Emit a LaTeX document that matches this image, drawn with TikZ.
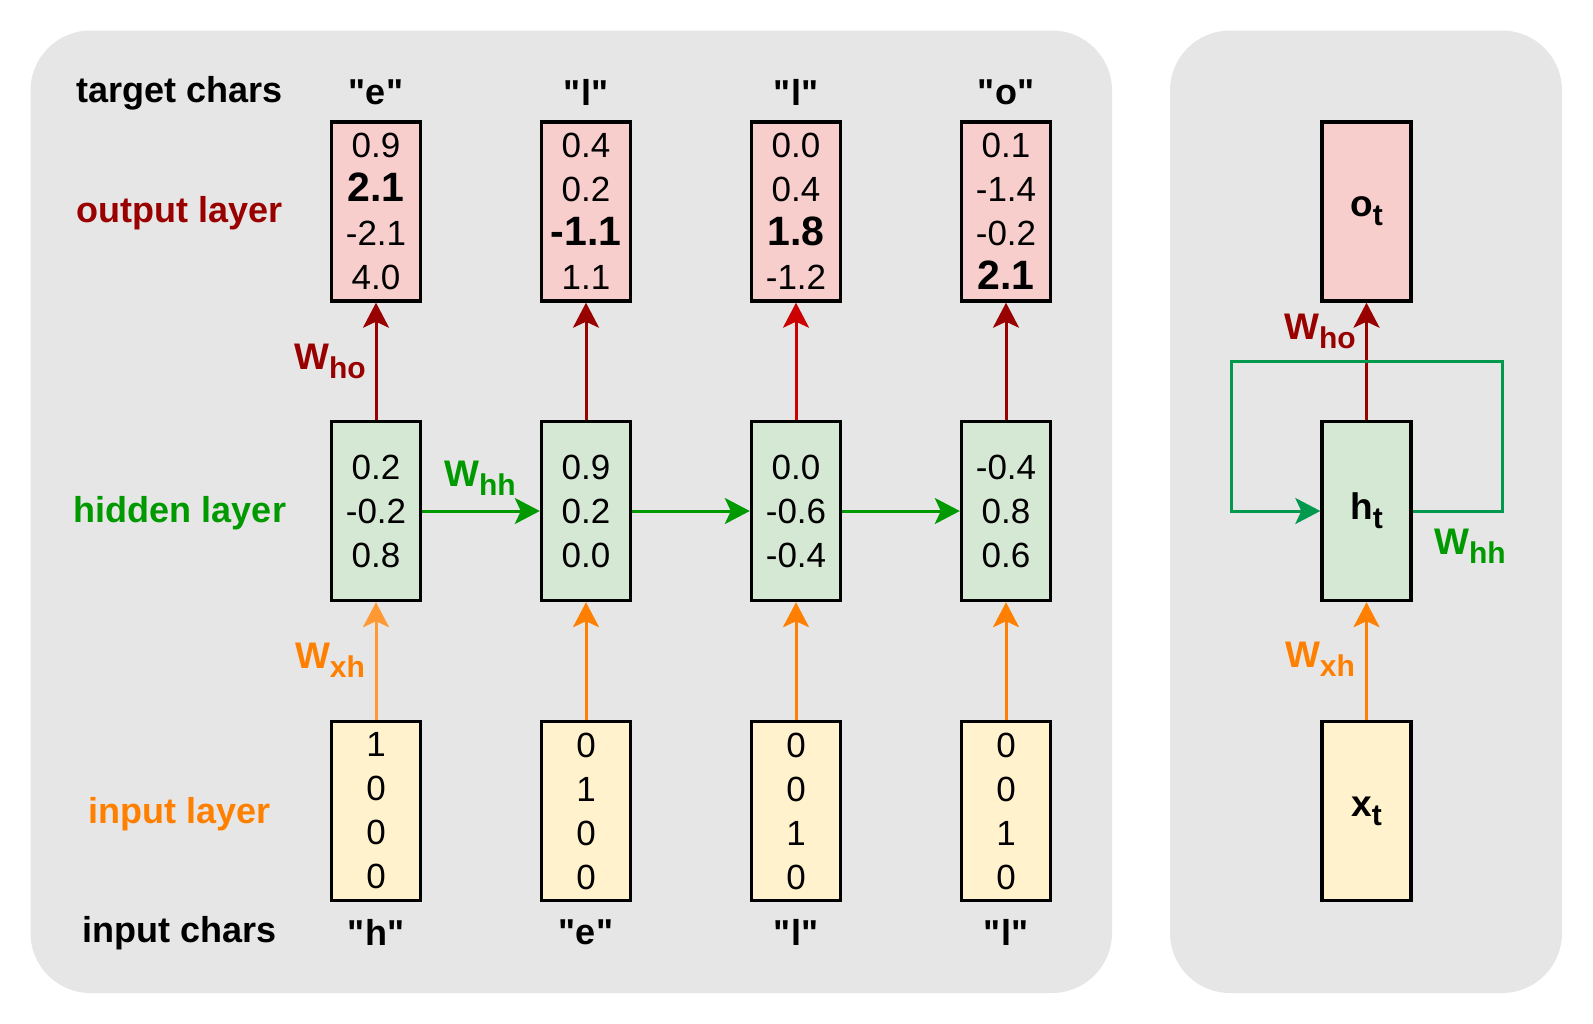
\documentclass[tikz,border=0pt]{standalone}
\usepackage{fontspec}
\setmainfont{Liberation Sans}[Ligatures=TeXOff]
\usetikzlibrary{arrows.meta}
\definecolor{panel}{HTML}{E6E6E6}
\definecolor{pinkf}{HTML}{F8CECC}
\definecolor{greenf}{HTML}{D5E8D4}
\definecolor{yellowf}{HTML}{FFF2CC}
\definecolor{dred}{HTML}{990000}
\definecolor{bred}{HTML}{CC0000}
\definecolor{dgreen}{HTML}{009900}
\definecolor{lgreen}{HTML}{00994D}
\definecolor{orng}{HTML}{FF8000}
\definecolor{lorng}{HTML}{FF9933}
\tikzset{
  vbox/.style={draw=black, line width=1.7pt, minimum width=44.5pt, minimum height=89.5pt, inner sep=0pt, align=center, font=\fontsize{17.5}{22}\selectfont},
  outbox/.style={vbox, fill=pinkf},
  hidbox/.style={vbox, fill=greenf},
  inbox/.style={vbox, fill=yellowf},
  lbl/.style={font=\fontsize{18}{20}\selectfont\bfseries},
  wlbl/.style={font=\fontsize{18.5}{20}\selectfont\bfseries, inner sep=0pt},
  conn/.style={line width=1.5pt, -{Stealth[length=12.5pt, width=13pt, inset=3pt]}},
}
\newcommand{\bignum}[1]{{\fontsize{20.5}{22}\selectfont\bfseries #1}}
\newcommand{\wsub}[2]{#1\raisebox{-4.5pt}{\fontsize{15}{15}\selectfont #2}}
\newcommand{\qq}[1]{"#1"}
\begin{document}
\begin{tikzpicture}[x=0.5pt,y=-0.5pt]
\useasboundingbox (0,0) rectangle (1593,1023);
\fill[panel, rounded corners=30pt] (30.5,30.5) rectangle (1112,993);
\fill[panel, rounded corners=30pt] (1170,30.5) rectangle (1562,993);

% row labels
\node[lbl] (lt) at (180,93) {target chars};
\node[lbl, text=dred] (lo) at (180,213) {output layer};
\node[lbl, text=dgreen] (lh) at (180,513) {hidden layer};
\node[lbl, text=orng] (li) at (180,814) {input layer};
\node[lbl] (lc) at (180,933) {input chars};

% target chars
\node[lbl] (t1) at (376,92) {\qq{e}};
\node[lbl] (t2) at (586,92) {\qq{l}};
\node[lbl] (t3) at (796,92) {\qq{l}};
\node[lbl] (t4) at (1006,92) {\qq{o}};
% input chars
\node[lbl] (c1) at (376,932) {\qq{h}};
\node[lbl] (c2) at (586,932) {\qq{e}};
\node[lbl] (c3) at (796,932) {\qq{l}};
\node[lbl] (c4) at (1006,932) {\qq{l}};

% output boxes
\node[outbox] (o1) at (376,211.5) {0.9\\\bignum{2.1}\\-2.1\\4.0};
\node[outbox] (o2) at (586,211.5) {0.4\\0.2\\\bignum{-1.1}\\1.1};
\node[outbox] (o3) at (796,211.5) {0.0\\0.4\\\bignum{1.8}\\-1.2};
\node[outbox] (o4) at (1006,211.5) {0.1\\-1.4\\-0.2\\\bignum{2.1}};
% hidden boxes
\node[hidbox] (h1) at (376,511) {0.2\\-0.2\\0.8};
\node[hidbox] (h2) at (586,511) {0.9\\0.2\\0.0};
\node[hidbox] (h3) at (796,511) {0.0\\-0.6\\-0.4};
\node[hidbox] (h4) at (1006,511) {-0.4\\0.8\\0.6};
% input boxes
\node[inbox] (i1) at (376,811) {1\\0\\0\\0};
\node[inbox] (i2) at (586,811) {0\\1\\0\\0};
\node[inbox] (i3) at (796,811) {0\\0\\1\\0};
\node[inbox] (i4) at (1006,811) {0\\0\\1\\0};

% connectors
\draw[conn, dred] (h1) -- (o1);
\draw[conn, dred] (h2) -- (o2);
\draw[conn, bred] (h3) -- (o3);
\draw[conn, dred] (h4) -- (o4);
\draw[conn, lorng] (i1) -- (h1);
\draw[conn, orng] (i2) -- (h2);
\draw[conn, orng] (i3) -- (h3);
\draw[conn, orng] (i4) -- (h4);
\draw[conn, dgreen] (h1) -- (h2);
\draw[conn, dgreen] (h2) -- (h3);
\draw[conn, dgreen] (h3) -- (h4);

\node[wlbl, text=dred] (who) at (330,361) {\wsub{W}{ho}};
\node[wlbl, text=dgreen] (whh) at (480,478) {\wsub{W}{hh}};
\node[wlbl, text=orng] (wxh) at (330,660) {\wsub{W}{xh}};

% right panel
\node[outbox] (ot) at (1366.5,211.5) {\bfseries\fontsize{18.5}{20}\selectfont \wsub{o}{t}};
\node[hidbox] (ht) at (1366.5,511) {\bfseries\fontsize{18.5}{20}\selectfont \wsub{h}{t}};
\node[inbox] (xt) at (1366.5,811) {\bfseries\fontsize{18.5}{20}\selectfont \wsub{x}{t}};
\draw[conn, dred] (ht) -- (ot);
\draw[conn, orng] (xt) -- (ht);
\draw[conn, lgreen] (ht.east) -- (1502,511) -- (1502,361) -- (1231,361) -- (1231,511) -- (ht.west);
\node[wlbl, text=dred] (who2) at (1320,331) {\wsub{W}{ho}};
\node[wlbl, text=dgreen] (whh2) at (1470,546) {\wsub{W}{hh}};
\node[wlbl, text=orng] (wxh2) at (1320,659) {\wsub{W}{xh}};
\end{tikzpicture}
\end{document}
